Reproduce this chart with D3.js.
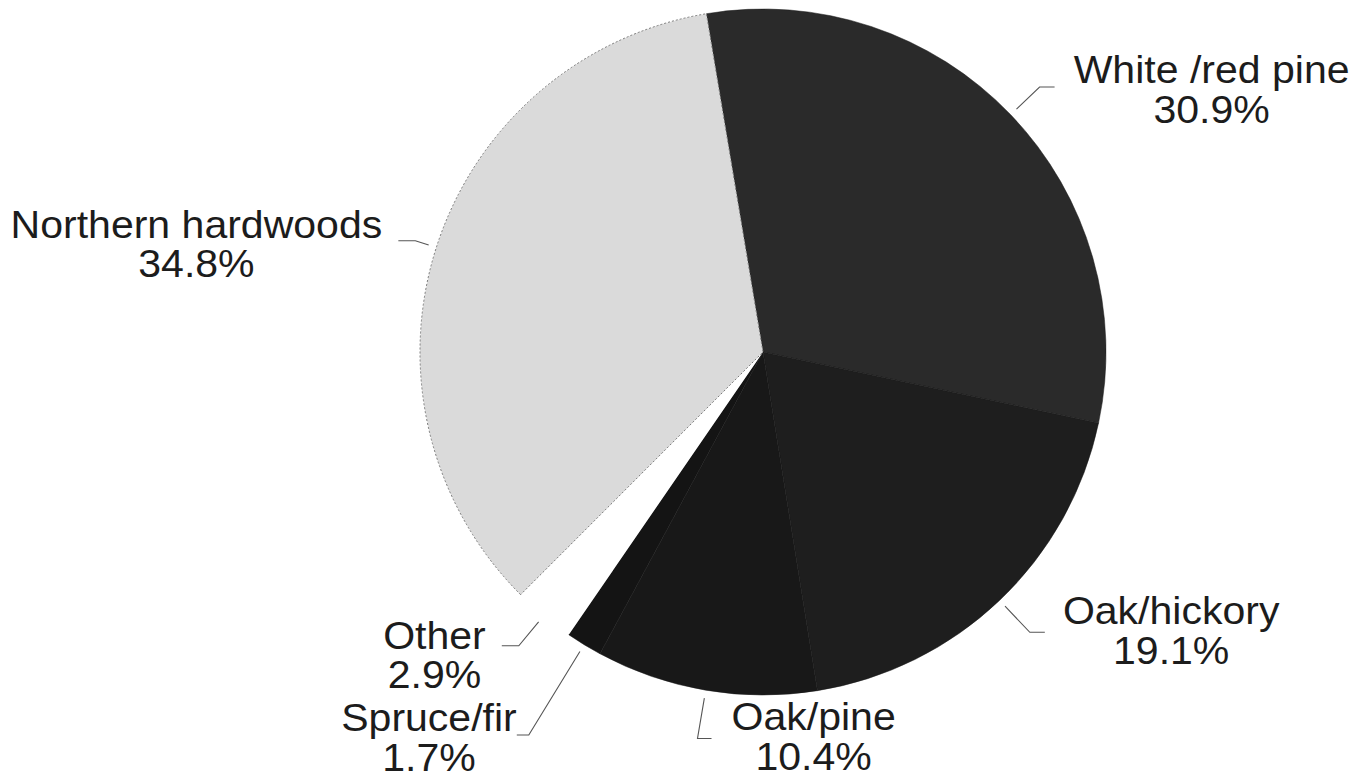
<!DOCTYPE html>
<html>
<head>
<meta charset="utf-8">
<script src="https://cdn.jsdelivr.net/npm/d3@7/dist/d3.min.js"></script>
<style>
  html, body { margin: 0; padding: 0; background: #ffffff; }
  svg { display: block; }
  text { font-family: "Liberation Sans", Arial, Helvetica, sans-serif; fill: #1c1c1c; }
</style>
</head>
<body>
<svg id="chart" width="1369" height="783"></svg>
<script>
// Forest-type shares, listed clockwise from the top of the pie
const categories = ["White /red pine", "Oak/hickory", "Oak/pine", "Spruce/fir", "Other", "Northern hardwoods"];
const shares = [30.9, 19.1, 10.4, 1.7, 2.9, 34.8];
const shareLabels = ["30.9%", "19.1%", "10.4%", "1.7%", "2.9%", "34.8%"];

// Styling and label layout per slice
const fills = ["#2a2a2a", "#1e1e1e", "#181818", "#141414", "#ffffff", "#dadada"];
const leaderBend = [40, 44, 49, 106, 39, 22];   // radial distance past the rim to the elbow
const labelSide = [1, 1, 1, -1, -1, -1];         // which way the tail and label go
const tailLens = [15, 15, 14, 12, 17, 17];
const labelGaps = [19, 18, 20, 0, 16, 16];
const labelDy = [1, -3, -3, 1, 8, 2];

const width = 1369, height = 783;
const cx = 763, cy = 352, radius = 343;
const fontSize = 38, stretchX = 1.08, lineGap = 39.5;

const svg = d3.select("#chart");
const g = svg.append("g").attr("transform", `translate(${cx},${cy})`);

const pie = d3.pie()
  .value(d => d.value)
  .sort(null)
  .startAngle(-9.5 * Math.PI / 180)
  .endAngle(-9.5 * Math.PI / 180 + 2 * Math.PI);

const rows = categories.map((c, i) => ({ name: c, value: shares[i], label: shareLabels[i], i }));
const arcs = pie(rows);

const arc = d3.arc().innerRadius(0).outerRadius(radius);

// Slices
g.selectAll("path.slice")
  .data(arcs)
  .join("path")
  .attr("class", "slice")
  .attr("d", arc)
  .attr("fill", d => fills[d.data.i])
  .attr("stroke", d => d.data.name === "Northern hardwoods" ? "#7a7a7a" : (d.data.name === "Other" ? "none" : "#181818"))
  .attr("stroke-width", d => d.data.name === "Northern hardwoods" ? 1 : 0.5)
  .attr("stroke-dasharray", d => d.data.name === "Northern hardwoods" ? "2,2" : null);

// Polar helper in d3's angle convention (0 = 12 o'clock, clockwise)
const polar = (a, r) => [r * Math.sin(a), -r * Math.cos(a)];

// Leader lines and two-line labels
arcs.forEach(d => {
  const i = d.data.i;
  const mid = (d.startAngle + d.endAngle) / 2;
  const side = labelSide[i];
  const p0 = polar(mid, radius + 8);
  const p1 = polar(mid, radius + leaderBend[i]);
  const p2 = [p1[0] + side * tailLens[i], p1[1]];

  g.append("polyline")
    .attr("points", [p0, p1, p2].map(p => p.join(",")).join(" "))
    .attr("fill", "none")
    .attr("stroke", "#555")
    .attr("stroke-width", 1.1);

  // One text element per label, the two lines centred on each other
  const txt = g.append("text")
    .attr("font-size", fontSize)
    .attr("text-anchor", "middle");
  const s1 = txt.append("tspan").attr("x", 0).attr("y", 0).text(d.data.name);
  const s2 = txt.append("tspan").attr("x", 0).attr("y", lineGap).text(d.data.label);
  const w = stretchX * Math.max(s1.node().getComputedTextLength(), s2.node().getComputedTextLength());
  const xc = side > 0 ? p2[0] + labelGaps[i] + w / 2 : p2[0] - labelGaps[i] - w / 2;
  const b1 = p1[1] - 5 + labelDy[i];
  txt.attr("transform", `translate(${xc},${b1}) scale(${stretchX},1)`);
});
</script>
</body>
</html>
